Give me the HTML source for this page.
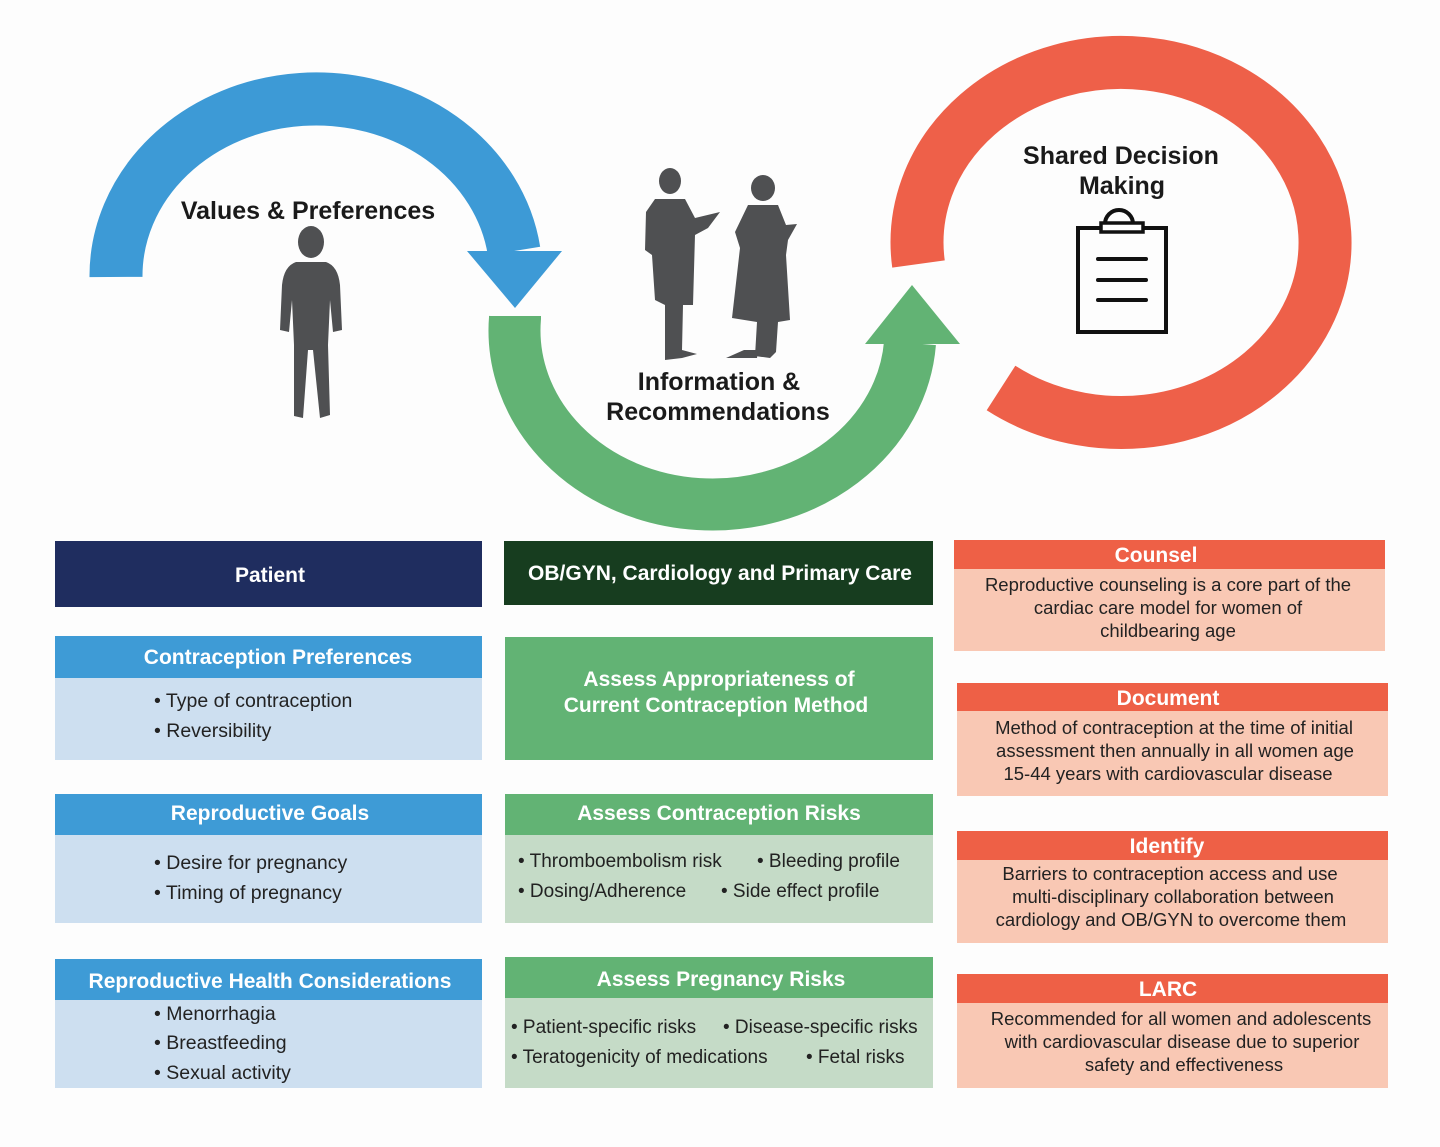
<!DOCTYPE html>
<html><head><meta charset="utf-8"><style>
body{margin:0;background:#fdfdfd;}
svg{display:block}
.t{font-family:"Liberation Sans",sans-serif;font-weight:bold;}
</style></head><body>
<svg width="1440" height="1147" viewBox="0 0 1440 1147" xmlns="http://www.w3.org/2000/svg">
<rect width="1440" height="1147" fill="#fdfdfd"/>
<!-- blue arc -->
<path d="M116 277 A200 177 0 0 1 514 251" fill="none" stroke="#3d9ad6" stroke-width="53"/>
<polygon points="467,251 562,251 515,308" fill="#3d9ad6"/>
<!-- green arc -->
<path d="M515 316 L515 318 A198 174 0 0 0 910 343" fill="none" stroke="#62b374" stroke-width="52"/>
<polygon points="865,344 960,344 912,285" fill="#62b374"/>
<!-- red ring -->
<path d="M918.5 264 A204 180 0 1 1 1001 388" fill="none" stroke="#ee6049" stroke-width="53"/>
<!-- clipboard -->
<rect x="1078" y="228" width="88" height="104" fill="none" stroke="#111" stroke-width="4"/>
<path d="M1105 224 a9 9 0 0 1 28 0" fill="none" stroke="#111" stroke-width="4"/>
<rect x="1101" y="223" width="42" height="9" fill="#fff" stroke="#111" stroke-width="3.5"/>
<g stroke="#111" stroke-width="4" stroke-linecap="round"><line x1="1098" y1="259" x2="1146" y2="259"/><line x1="1098" y1="280" x2="1146" y2="280"/><line x1="1098" y1="300" x2="1146" y2="300"/></g>
<!-- labels -->
<text class="t" x="308" y="219" font-size="25" text-anchor="middle" fill="#1a1a1a">Values &amp; Preferences</text>
<text class="t" x="719" y="390" font-size="25" text-anchor="middle" fill="#1a1a1a">Information &amp;</text>
<text class="t" x="718" y="420" font-size="25" text-anchor="middle" fill="#1a1a1a">Recommendations</text>
<text class="t" x="1121" y="164" font-size="25" text-anchor="middle" fill="#1a1a1a">Shared Decision</text>
<text class="t" x="1122" y="194" font-size="25" text-anchor="middle" fill="#1a1a1a">Making</text>
<!-- patient silhouette -->
<g fill="#4f5052">
<ellipse cx="311" cy="242" rx="13" ry="16"/>
<path d="M296 262 L326 262 Q338 266 340 285 L342 330 L333 332 L330 300 L328 345 L330 415 L320 418 L313 350 L308 350 L303 418 L294 416 L294 345 L292 300 L289 332 L280 330 L282 285 Q284 266 296 262Z"/>
</g>
<!-- doctors -->
<g fill="#4f5052">
<ellipse cx="670" cy="181" rx="11" ry="13"/>
<path d="M655 199 L685 199 L695 218 L720 212 L708 228 L695 235 L693 305 L683 305 L682 350 L697 354 L682 358 L665 360 L665 305 L655 300 L652 255 L645 250 L646 212Z"/>
<ellipse cx="763" cy="188" rx="12" ry="13"/>
<path d="M748 205 L778 205 L786 225 L797 224 L788 240 L786 255 L790 320 L778 322 L776 352 L770 358 L755 356 L757 322 L732 318 L740 248 L735 232 Z"/>
<path d="M744 350 L758 350 L757 358 L726 358Z"/>
</g>
<!-- left column -->
<rect x="55" y="541" width="427" height="66" fill="#1f2d5f"/>
<text class="t" x="270" y="582" font-size="21" text-anchor="middle" fill="#fff">Patient</text>
<rect x="55" y="636" width="427" height="42" fill="#3e9bd6"/>
<rect x="55" y="678" width="427" height="82" fill="#cddff0"/>
<text class="t" x="278" y="664" font-size="21" text-anchor="middle" fill="#fff">Contraception Preferences</text>
<text class="t" x="154" y="707" font-size="19.5" fill="#222" style="font-weight:normal">• Type of contraception</text>
<text class="t" x="154" y="737" font-size="19.5" fill="#222" style="font-weight:normal">• Reversibility</text>
<rect x="55" y="794" width="427" height="41" fill="#3e9bd6"/>
<rect x="55" y="835" width="427" height="88" fill="#cddff0"/>
<text class="t" x="270" y="820" font-size="21" text-anchor="middle" fill="#fff">Reproductive Goals</text>
<text class="t" x="154" y="869" font-size="19.5" fill="#222" style="font-weight:normal">• Desire for pregnancy</text>
<text class="t" x="154" y="899" font-size="19.5" fill="#222" style="font-weight:normal">• Timing of pregnancy</text>
<rect x="55" y="959" width="427" height="41" fill="#3e9bd6"/>
<rect x="55" y="1000" width="427" height="88" fill="#cddff0"/>
<text class="t" x="270" y="988" font-size="21" text-anchor="middle" fill="#fff">Reproductive Health Considerations</text>
<text class="t" x="154" y="1020" font-size="19.5" fill="#222" style="font-weight:normal">• Menorrhagia</text>
<text class="t" x="154" y="1049" font-size="19.5" fill="#222" style="font-weight:normal">• Breastfeeding</text>
<text class="t" x="154" y="1079" font-size="19.5" fill="#222" style="font-weight:normal">• Sexual activity</text>
<!-- middle column -->
<rect x="504" y="541" width="429" height="64" fill="#173d1f"/>
<text class="t" x="720" y="580" font-size="21" text-anchor="middle" fill="#fff">OB/GYN, Cardiology and Primary Care</text>
<rect x="505" y="637" width="428" height="123" fill="#62b374"/>
<text class="t" x="719" y="686" font-size="21" text-anchor="middle" fill="#fff">Assess Appropriateness of</text>
<text class="t" x="716" y="712" font-size="21" text-anchor="middle" fill="#fff">Current Contraception Method</text>
<rect x="505" y="794" width="428" height="41" fill="#62b374"/>
<rect x="505" y="835" width="428" height="88" fill="#c5dbc7"/>
<text class="t" x="719" y="820" font-size="21" text-anchor="middle" fill="#fff">Assess Contraception Risks</text>
<text class="t" x="518" y="867" font-size="19" fill="#222" style="font-weight:normal">• Thromboembolism risk</text>
<text class="t" x="757" y="867" font-size="19" fill="#222" style="font-weight:normal">• Bleeding profile</text>
<text class="t" x="518" y="897" font-size="19" fill="#222" style="font-weight:normal">• Dosing/Adherence</text>
<text class="t" x="721" y="897" font-size="19" fill="#222" style="font-weight:normal">• Side effect profile</text>
<rect x="505" y="957" width="428" height="41" fill="#62b374"/>
<rect x="505" y="998" width="428" height="90" fill="#c5dbc7"/>
<text class="t" x="721" y="986" font-size="21" text-anchor="middle" fill="#fff">Assess Pregnancy Risks</text>
<text class="t" x="511" y="1033" font-size="19" fill="#222" style="font-weight:normal">• Patient-specific risks</text>
<text class="t" x="723" y="1033" font-size="19" fill="#222" style="font-weight:normal">• Disease-specific risks</text>
<text class="t" x="511" y="1063" font-size="19" fill="#222" style="font-weight:normal">• Teratogenicity of medications</text>
<text class="t" x="806" y="1063" font-size="19" fill="#222" style="font-weight:normal">• Fetal risks</text>
<!-- right column -->
<rect x="954" y="540" width="431" height="29" fill="#ee6046"/>
<rect x="954" y="569" width="431" height="82" fill="#f9c8b4"/>
<text class="t" x="1156" y="562" font-size="21" text-anchor="middle" fill="#fff">Counsel</text>
<g font-family="Liberation Sans, sans-serif" font-size="18.5" fill="#222" text-anchor="middle">
<text x="1168" y="591">Reproductive counseling is a core part of the</text>
<text x="1168" y="614">cardiac care model for women of</text>
<text x="1168" y="637">childbearing age</text>
</g>
<rect x="957" y="683" width="431" height="28" fill="#ee6046"/>
<rect x="957" y="711" width="431" height="85" fill="#f9c8b4"/>
<text class="t" x="1168" y="705" font-size="21" text-anchor="middle" fill="#fff">Document</text>
<g font-family="Liberation Sans, sans-serif" font-size="18.5" fill="#222" text-anchor="middle">
<text x="1174" y="734">Method of contraception at the time of initial</text>
<text x="1175" y="757">assessment then annually in all women age</text>
<text x="1168" y="780">15-44 years with cardiovascular disease</text>
</g>
<rect x="957" y="831" width="431" height="29" fill="#ee6046"/>
<rect x="957" y="860" width="431" height="83" fill="#f9c8b4"/>
<text class="t" x="1167" y="853" font-size="21" text-anchor="middle" fill="#fff">Identify</text>
<g font-family="Liberation Sans, sans-serif" font-size="18.5" fill="#222" text-anchor="middle">
<text x="1170" y="880">Barriers to contraception access and use</text>
<text x="1173" y="903">multi-disciplinary collaboration between</text>
<text x="1171" y="926">cardiology and OB/GYN to overcome them</text>
</g>
<rect x="957" y="974" width="431" height="29" fill="#ee6046"/>
<rect x="957" y="1003" width="431" height="85" fill="#f9c8b4"/>
<text class="t" x="1168" y="996" font-size="21" text-anchor="middle" fill="#fff">LARC</text>
<g font-family="Liberation Sans, sans-serif" font-size="18.5" fill="#222" text-anchor="middle">
<text x="1181" y="1025">Recommended for all women and adolescents</text>
<text x="1182" y="1048">with cardiovascular disease due to superior</text>
<text x="1184" y="1071">safety and effectiveness</text>
</g>
</svg>
</body></html>
